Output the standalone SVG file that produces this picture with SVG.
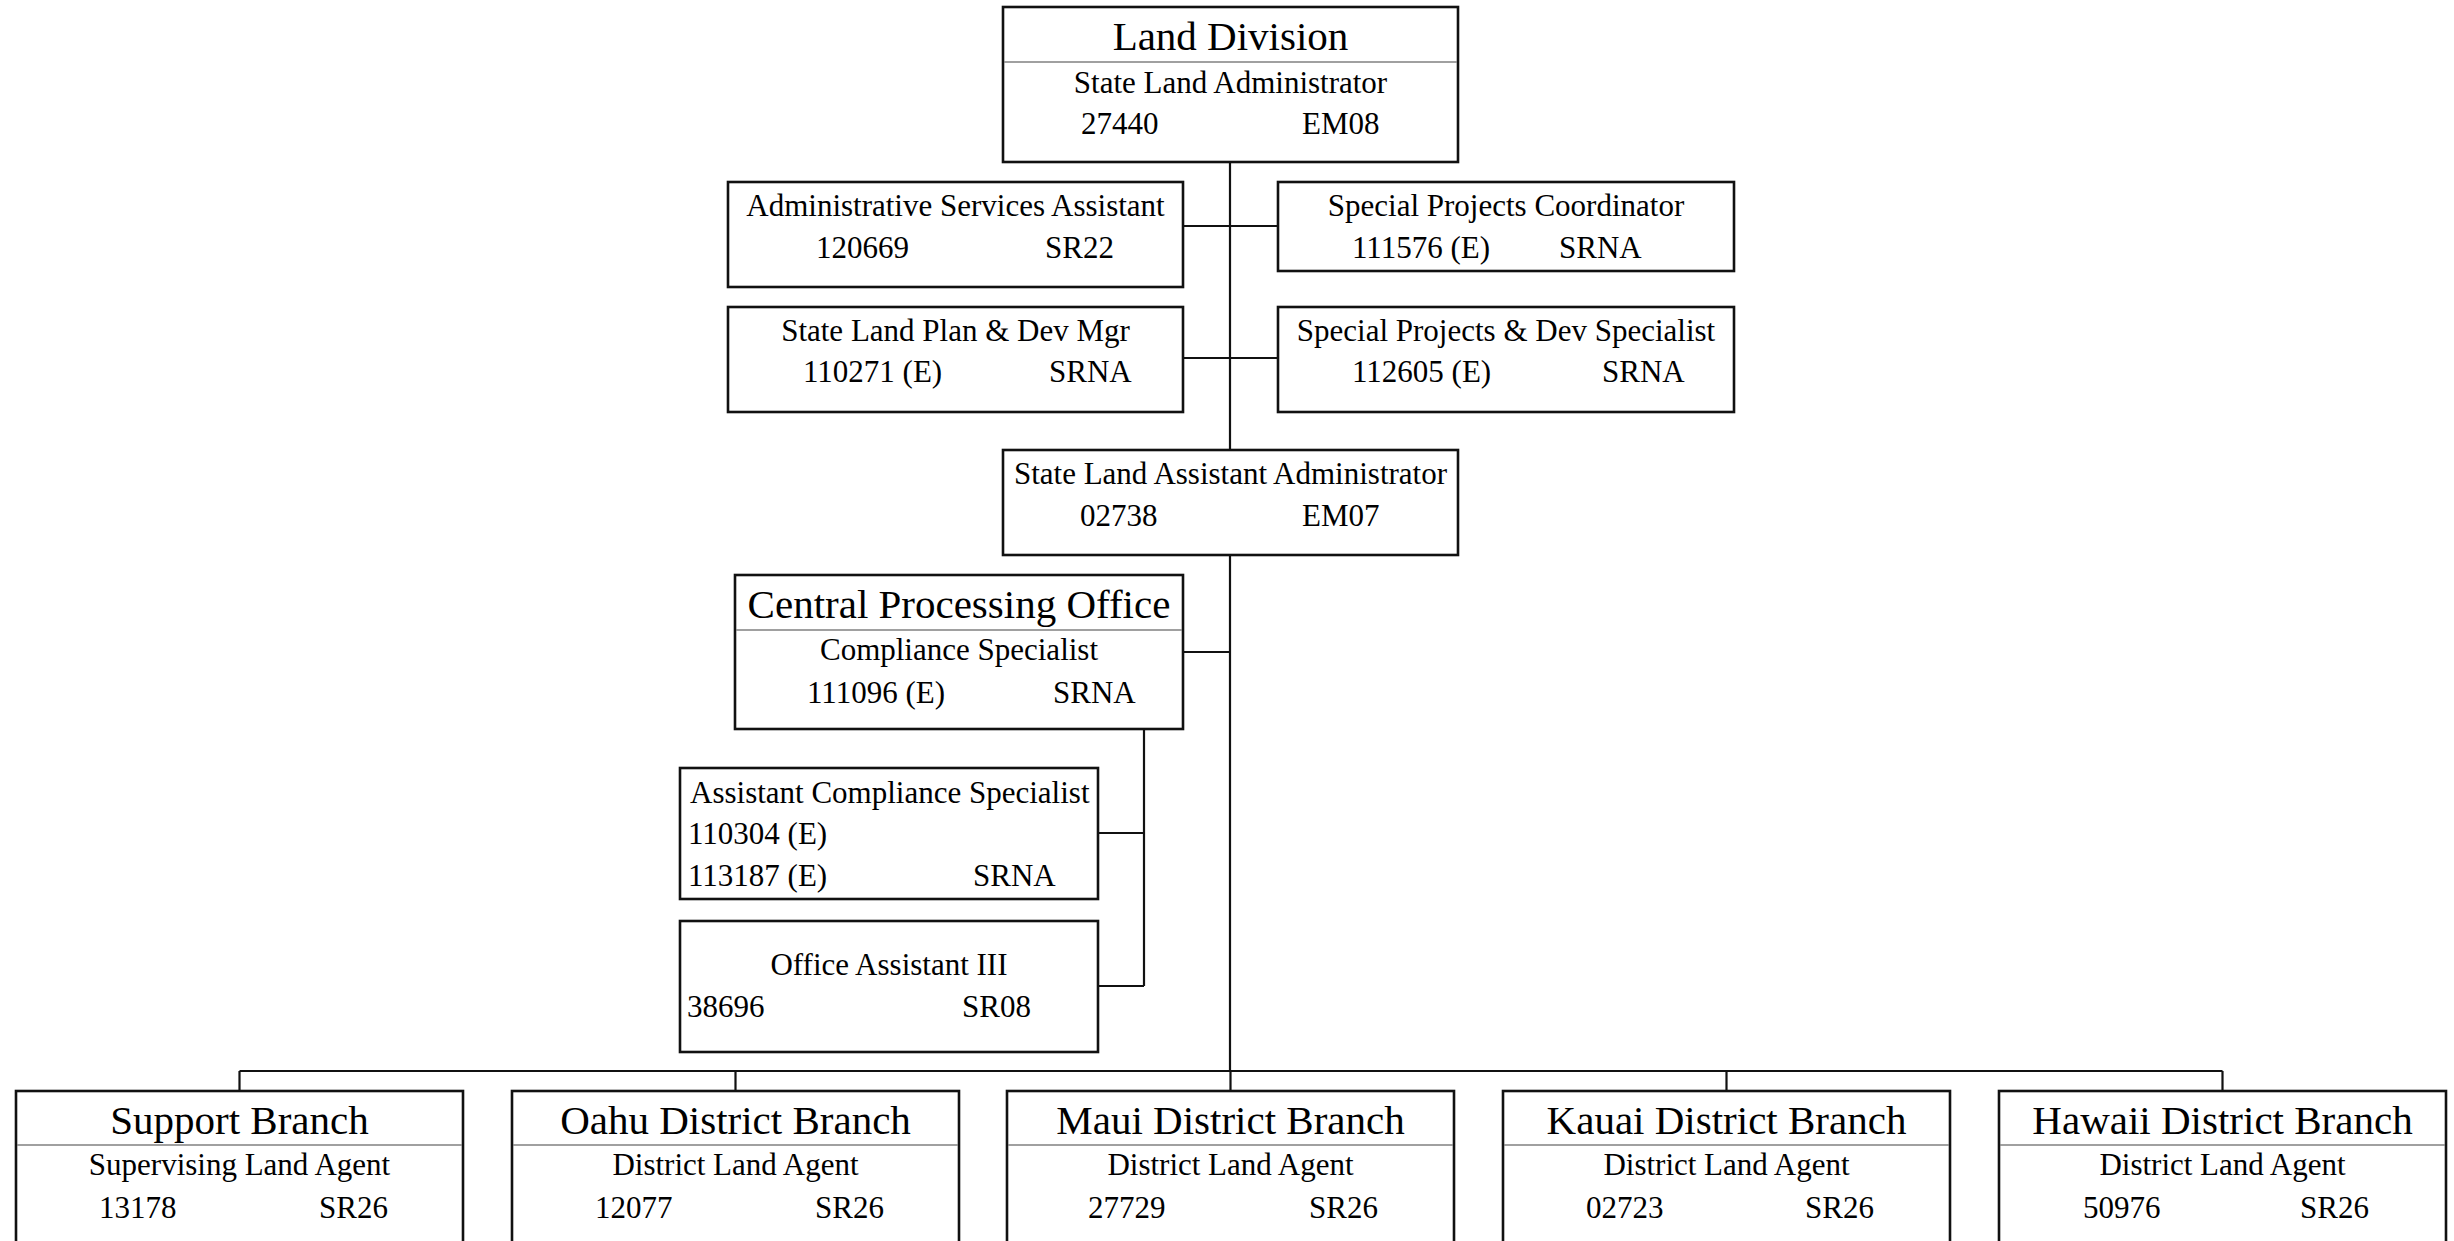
<svg xmlns="http://www.w3.org/2000/svg" width="2454" height="1241" viewBox="0 0 2454 1241">
<style>
.box{fill:#fff;stroke:#111;stroke-width:2.6}
.div{stroke:#808080;stroke-width:1.6}
.con{fill:none;stroke:#111;stroke-width:2.2}
text{font-family:"Liberation Serif","Times New Roman",serif;fill:#000}
.t{font-size:41px;text-anchor:middle}
.s{font-size:31px}
.c{text-anchor:middle}
</style>
<rect width="2454" height="1241" fill="#fff"/>
<g id="connectors">
<path class="con" d="M1230 162V450M1230 555V1071M1183 226H1278M1183 358H1278M1183 652H1230M1144 729V986M1098 833H1144M1098 986H1144M239.5 1071H2222.5M239.5 1071V1091M735.5 1071V1091M1230.5 1071V1091M1726.5 1071V1091M2222.5 1071V1091"/>
</g>
<g id="land-division">
<rect class="box" x="1003" y="7" width="455" height="155"/>
<line class="div" x1="1004" y1="62" x2="1457" y2="62"/>
<text class="t" x="1230.5" y="50">Land Division</text>
<text class="s c" x="1230.5" y="93">State Land Administrator</text>
<text class="s" x="1081" y="134">27440</text>
<text class="s" x="1302" y="134">EM08</text>
</g>
<g id="admin-services-assistant">
<rect class="box" x="728" y="182" width="455" height="105"/>
<text class="s c" x="955.5" y="216">Administrative Services Assistant</text>
<text class="s" x="816" y="258">120669</text>
<text class="s" x="1045" y="258">SR22</text>
</g>
<g id="special-projects-coordinator">
<rect class="box" x="1278" y="182" width="456" height="89"/>
<text class="s c" x="1506" y="216">Special Projects Coordinator</text>
<text class="s" x="1352" y="258">111576 (E)</text>
<text class="s" x="1559" y="258">SRNA</text>
</g>
<g id="state-land-plan-dev-mgr">
<rect class="box" x="728" y="307" width="455" height="105"/>
<text class="s c" x="955.5" y="341">State Land Plan &amp; Dev Mgr</text>
<text class="s" x="803" y="382">110271 (E)</text>
<text class="s" x="1049" y="382">SRNA</text>
</g>
<g id="special-projects-dev-specialist">
<rect class="box" x="1278" y="307" width="456" height="105"/>
<text class="s c" x="1506" y="341">Special Projects &amp; Dev Specialist</text>
<text class="s" x="1352" y="382">112605 (E)</text>
<text class="s" x="1602" y="382">SRNA</text>
</g>
<g id="state-land-assistant-administrator">
<rect class="box" x="1003" y="450" width="455" height="105"/>
<text class="s c" x="1230.5" y="484">State Land Assistant Administrator</text>
<text class="s" x="1080" y="526">02738</text>
<text class="s" x="1302" y="526">EM07</text>
</g>
<g id="central-processing-office">
<rect class="box" x="735" y="575" width="448" height="154"/>
<line class="div" x1="736" y1="630" x2="1182" y2="630"/>
<text class="t" x="959" y="618">Central Processing Office</text>
<text class="s c" x="959" y="660">Compliance Specialist</text>
<text class="s" x="807" y="703">111096 (E)</text>
<text class="s" x="1053" y="703">SRNA</text>
</g>
<g id="assistant-compliance-specialist">
<rect class="box" x="680" y="768" width="418" height="131"/>
<text class="s" x="690" y="803">Assistant Compliance Specialist</text>
<text class="s" x="688" y="844">110304 (E)</text>
<text class="s" x="688" y="886">113187 (E)</text>
<text class="s" x="973" y="886">SRNA</text>
</g>
<g id="office-assistant-iii">
<rect class="box" x="680" y="921" width="418" height="131"/>
<text class="s c" x="889" y="975">Office Assistant III</text>
<text class="s" x="687" y="1017">38696</text>
<text class="s" x="962" y="1017">SR08</text>
</g>
<g id="support-branch">
<rect class="box" x="16" y="1091" width="447" height="180"/>
<line class="div" x1="17" y1="1145" x2="462" y2="1145"/>
<text class="t" x="239.5" y="1134">Support Branch</text>
<text class="s c" x="239.5" y="1175">Supervising Land Agent</text>
<text class="s" x="99" y="1218">13178</text>
<text class="s" x="319" y="1218">SR26</text>
</g>
<g id="oahu-district-branch">
<rect class="box" x="512" y="1091" width="447" height="180"/>
<line class="div" x1="513" y1="1145" x2="958" y2="1145"/>
<text class="t" x="735.5" y="1134">Oahu District Branch</text>
<text class="s c" x="735.5" y="1175">District Land Agent</text>
<text class="s" x="595" y="1218">12077</text>
<text class="s" x="815" y="1218">SR26</text>
</g>
<g id="maui-district-branch">
<rect class="box" x="1007" y="1091" width="447" height="180"/>
<line class="div" x1="1008" y1="1145" x2="1453" y2="1145"/>
<text class="t" x="1230.5" y="1134">Maui District Branch</text>
<text class="s c" x="1230.5" y="1175">District Land Agent</text>
<text class="s" x="1088" y="1218">27729</text>
<text class="s" x="1309" y="1218">SR26</text>
</g>
<g id="kauai-district-branch">
<rect class="box" x="1503" y="1091" width="447" height="180"/>
<line class="div" x1="1504" y1="1145" x2="1949" y2="1145"/>
<text class="t" x="1726.5" y="1134">Kauai District Branch</text>
<text class="s c" x="1726.5" y="1175">District Land Agent</text>
<text class="s" x="1586" y="1218">02723</text>
<text class="s" x="1805" y="1218">SR26</text>
</g>
<g id="hawaii-district-branch">
<rect class="box" x="1999" y="1091" width="447" height="180"/>
<line class="div" x1="2000" y1="1145" x2="2445" y2="1145"/>
<text class="t" x="2222.5" y="1134">Hawaii District Branch</text>
<text class="s c" x="2222.5" y="1175">District Land Agent</text>
<text class="s" x="2083" y="1218">50976</text>
<text class="s" x="2300" y="1218">SR26</text>
</g>
</svg>
